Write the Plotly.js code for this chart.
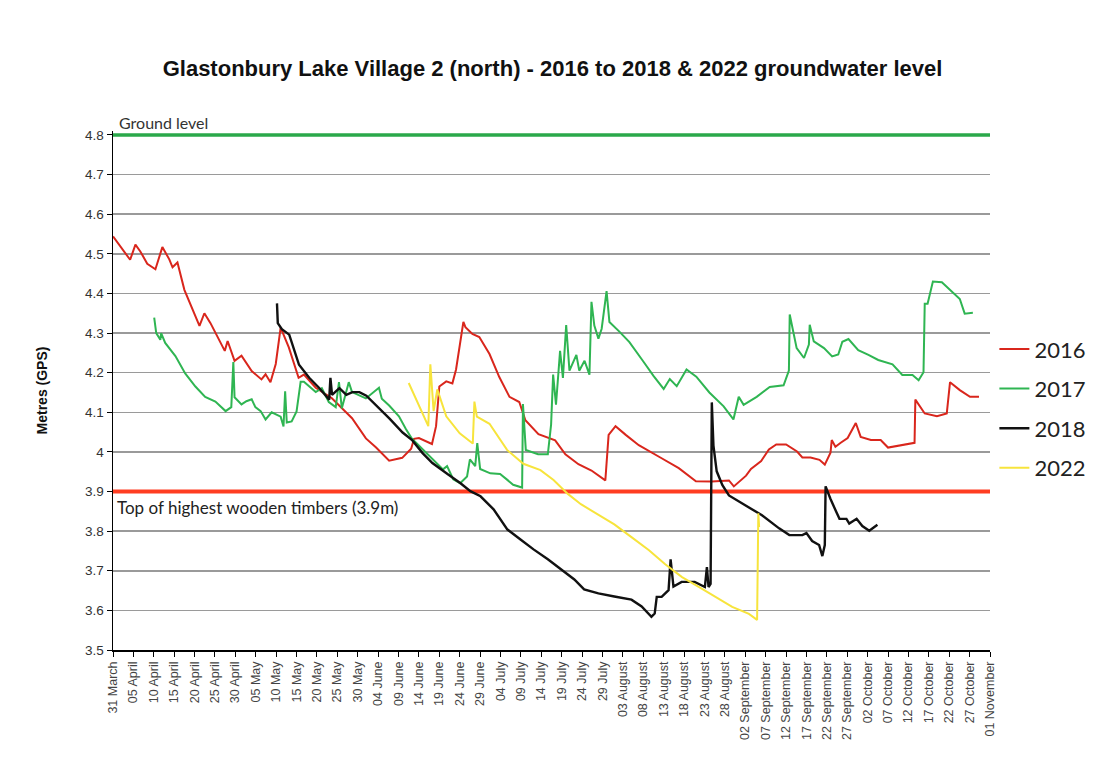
<!DOCTYPE html>
<html>
<head>
<meta charset="utf-8">
<script src="https://cdn.plot.ly/plotly-3.0.1.min.js"></script>
<style>html,body{margin:0;padding:0;background:#fff;}#chart{width:1105px;height:763px;}</style>
</head>
<body>
<div id="chart"></div>
<script>
// x values: days after 31 March (0 = 31 March, 215 = 01 November)
const tickDays = [0,5,10,15,20,25,30,35,40,45,50,55,60,65,70,75,80,85,90,95,100,105,110,115,120,125,130,135,140,145,150,155,160,165,170,175,180,185,190,195,200,205,210,215];
const tickLabels = ["31 March","05 April","10 April","15 April","20 April","25 April","30 April","05 May","10 May","15 May","20 May","25 May","30 May","04 June","09 June","14 June","19 June","24 June","29 June","04 July","09 July","14 July","19 July","24 July","29 July","03 August","08 August","13 August","18 August","23 August","28 August","02 September","07 September","12 September","17 September","22 September","27 September","02 October","07 October","12 October","17 October","22 October","27 October","01 November"];

const groundLevel = 4.8;
const timberLevel = 3.9;

const days2016 = [0,4.2,5.5,6.7,8.4,10.4,12.1,13.8,14.6,15.8,17.5,20,21.2,22.4,23.9,27.4,28.1,29.8,31.5,34,36.4,37.4,38.6,39.9,41.1,43.1,45.5,46.8,49.7,53.6,57.8,58.6,62,64.5,67.7,70.9,73.1,73.8,75,78.2,79.2,79.5,80,81.7,83.2,84.1,85.6,85.9,86.4,88.1,89.8,92.3,94.7,97.2,99.6,101.1,104.3,108.4,110.9,114.1,117.3,120.7,121.5,123.2,125.7,128.9,134.5,138.7,142.9,146.8,151,152.2,155.2,156.4,158.9,160.8,162.6,165,167.7,169,171,173.2,174.5,175.9,176.2,177.1,178.4,180.1,182.1,183.3,185.8,188.2,190,192.4,196.5,196.7,199,202,204.4,205.2,207.6,210.1,212.3];
const level2016 = [4.544,4.485,4.523,4.506,4.475,4.461,4.517,4.486,4.466,4.478,4.409,4.35,4.318,4.35,4.325,4.255,4.28,4.23,4.243,4.204,4.183,4.196,4.176,4.222,4.314,4.264,4.187,4.195,4.162,4.136,4.093,4.085,4.034,4.011,3.978,3.985,4.008,4.033,4.035,4.02,4.065,4.108,4.165,4.178,4.173,4.208,4.315,4.328,4.315,4.298,4.29,4.247,4.189,4.139,4.126,4.08,4.045,4.029,3.994,3.969,3.953,3.928,4.043,4.065,4.043,4.017,3.984,3.959,3.926,3.925,3.928,3.913,3.94,3.957,3.977,4.006,4.019,4.019,4.001,3.986,3.986,3.98,3.968,3.998,4.03,4.013,4.023,4.035,4.073,4.038,4.03,4.03,4.011,4.016,4.023,4.132,4.097,4.09,4.097,4.176,4.156,4.139,4.139];

const days2017 = [10.1,10.6,11.6,11.8,12.8,15.3,17.7,20.2,22.6,25.1,27.6,29,29.5,29.8,31.5,32.7,34,34.9,36.2,37.4,38.9,41.1,41.8,42.2,42.6,43.8,45,46,46.8,49.7,51.2,52.9,54.6,55.4,56.1,57.8,58.6,62,65.2,65.9,67.7,68.4,70.1,71.8,73.3,74.3,77.5,80.9,81.9,83.4,85.1,86.8,87.5,88.8,89.3,90,92.5,94.9,96.6,98.1,100.3,100.5,101.2,104.2,106.6,107.4,107.9,108.6,109.6,110.3,111.1,111.9,113.6,114.3,115.6,116.8,117.3,118,119,119.8,121,121.7,124.2,126.6,130.1,132.5,135,136.5,138.2,140.6,143,146.2,149.7,152.1,153.4,154.6,157.8,161,164.4,165.7,165.9,167.6,169.4,170.6,170.8,171.8,174.3,176.3,177.8,178.8,180.3,182.7,185.2,187.6,191.1,193.5,196,197.5,198.7,199,199.7,201,203.2,205.6,207.6,208.8,210.8];
const level2017 = [4.339,4.30,4.283,4.30,4.275,4.242,4.198,4.165,4.139,4.127,4.103,4.113,4.227,4.138,4.12,4.128,4.133,4.113,4.103,4.082,4.1,4.089,4.064,4.153,4.074,4.077,4.102,4.177,4.177,4.151,4.161,4.126,4.113,4.176,4.11,4.176,4.151,4.135,4.162,4.134,4.117,4.109,4.09,4.058,4.033,4.023,3.99,3.956,3.964,3.931,3.921,3.938,3.981,3.964,4.022,3.957,3.946,3.944,3.93,3.917,3.91,4.121,4.005,3.994,3.994,4.069,4.195,4.119,4.255,4.187,4.32,4.205,4.245,4.205,4.23,4.195,4.379,4.319,4.286,4.311,4.406,4.328,4.303,4.277,4.227,4.192,4.159,4.184,4.166,4.208,4.19,4.15,4.115,4.082,4.139,4.119,4.139,4.164,4.168,4.205,4.347,4.262,4.237,4.271,4.321,4.279,4.262,4.241,4.246,4.278,4.285,4.257,4.245,4.232,4.221,4.194,4.194,4.181,4.201,4.374,4.374,4.43,4.428,4.405,4.386,4.349,4.351];

const days2018 = [40.2,40.4,41.4,43.2,45.6,48.1,50.5,53,53.3,53.7,55.5,57.2,58.7,60.4,62.1,64.6,67.8,71,73.4,75.9,78.3,82,85.2,87.6,90.1,93.3,96.7,99.9,103.1,106.6,109.8,113.1,115.5,119,122.9,127.1,129.6,132,132.8,133.3,134.5,136.2,136.7,137.4,139.4,142.6,145.1,145.6,146,146.5,146.8,147.2,148,149.4,151,155.2,159.1,163.3,165.8,169,170,171.4,173.1,173.9,174.5,174.7,175.9,177.3,178.1,179.8,180.5,182.3,183.7,185.4,187.4];
const level2018 = [4.375,4.325,4.31,4.296,4.22,4.187,4.162,4.132,4.187,4.144,4.161,4.144,4.151,4.151,4.142,4.117,4.084,4.049,4.029,3.997,3.972,3.944,3.921,3.901,3.888,3.855,3.804,3.779,3.754,3.729,3.703,3.678,3.653,3.643,3.635,3.627,3.61,3.584,3.592,3.634,3.634,3.651,3.729,3.66,3.672,3.672,3.659,3.709,3.659,3.667,4.125,4.016,3.951,3.916,3.89,3.865,3.84,3.807,3.79,3.79,3.795,3.775,3.765,3.737,3.765,3.913,3.881,3.849,3.831,3.831,3.819,3.831,3.813,3.801,3.816];

const days2022 = [72.5,77.3,77.8,78.6,79.5,81.7,85,88.2,88.6,89.2,92.3,96.6,100.6,104.8,108,111.5,114.7,118.9,122.9,127.1,131.4,135.3,139.5,143.7,147.6,151.8,155.9,157.9,158.2,158.4];
const level2022 = [4.174,4.065,4.221,4.103,4.158,4.09,4.047,4.021,4.127,4.089,4.071,4.005,3.97,3.954,3.929,3.894,3.868,3.843,3.817,3.785,3.752,3.717,3.684,3.659,3.634,3.609,3.591,3.576,3.845,3.81];

const seriesNames = ["2016","2017","2018","2022"];
const seriesColors = ["#d9261c","#2fb552","#111111","#f7e43c"];
const seriesDays = [days2016, days2017, days2018, days2022];
const seriesLevels = [level2016, level2017, level2018, level2022];

const xStart = tickDays[0];
const xEnd = tickDays[tickDays.length - 1];

const refTraces = [
  {type: "scatter", mode: "lines", x: [xStart, xEnd], y: [groundLevel, groundLevel],
   line: {color: "#2aa84a", width: 3.5}, showlegend: false, hoverinfo: "skip", cliponaxis: false},
  {type: "scatter", mode: "lines", x: [xStart, xEnd], y: [timberLevel, timberLevel],
   line: {color: "#ff3d22", width: 4}, showlegend: false, hoverinfo: "skip"}
];

const traces = refTraces.concat(seriesNames.map((n, i) => ({
  type: "scatter", mode: "lines", name: n,
  x: seriesDays[i], y: seriesLevels[i],
  line: {color: seriesColors[i], width: i === 2 ? 2.4 : 2},
  legendgroup: n
})));

const layout = {
  width: 1105, height: 763,
  paper_bgcolor: "#ffffff", plot_bgcolor: "#ffffff",
  margin: {l: 113, r: 115, t: 131, b: 113},
  font: {family: "Liberation Sans, Arial, sans-serif", color: "#333"},
  title: {
    text: "Glastonbury Lake Village 2 (north) - 2016 to 2018 & 2022 groundwater level",
    font: {family: "Liberation Sans, Arial, sans-serif", size: 22, color: "#111", weight: "bold"},
    x: 0.5, xref: "container", xanchor: "center",
    y: 0.91, yref: "container", yanchor: "middle"
  },
  xaxis: {
    range: [xStart, xEnd], tickmode: "array", tickvals: tickDays, ticktext: tickLabels,
    tickangle: -90, ticks: "outside", ticklen: 5, tickcolor: "#000",
    tickfont: {size: 12.5, color: "#444"},
    showline: true, linecolor: "#000", linewidth: 1.5,
    showgrid: false, zeroline: false, fixedrange: true
  },
  yaxis: {
    range: [3.5, 4.81], tick0: 3.5, dtick: 0.1, tickmode: "linear",
    ticks: "outside", ticklen: 5, tickcolor: "#000",
    tickfont: {size: 13.5, color: "#333"},
    showline: true, linecolor: "#000", linewidth: 1.5,
    showgrid: true, gridcolor: "#9a9a9a", gridwidth: 1.5,
    zeroline: false, fixedrange: true,
    title: {text: "Metres (GPS)", standoff: 34, font: {size: 14, color: "#111", weight: "bold"}}
  },
  showlegend: true,
  legend: {
    x: 1.005, xanchor: "left", y: 0.62, yanchor: "top",
    font: {family: "Lato, sans-serif", size: 22, color: "#222"},
    itemwidth: 30, tracegroupgap: 8, traceorder: "grouped",
    bgcolor: "rgba(0,0,0,0)"
  },
  annotations: [
    {text: "Ground level", xref: "paper", x: 0.005, xanchor: "left", yref: "y", y: groundLevel, yanchor: "bottom",
     yshift: 1, showarrow: false, font: {family: "Lato, sans-serif", size: 16, color: "#333"}},
    {text: "Top of highest wooden timbers (3.9m)", xref: "paper", x: 0.002, xanchor: "left", yref: "y", y: timberLevel, yanchor: "top",
     yshift: -3, showarrow: false, font: {family: "Lato, sans-serif", size: 17, color: "#222"}}
  ]
};

Plotly.newPlot("chart", traces, layout, {displayModeBar: false, staticPlot: true});
</script>
</body>
</html>
